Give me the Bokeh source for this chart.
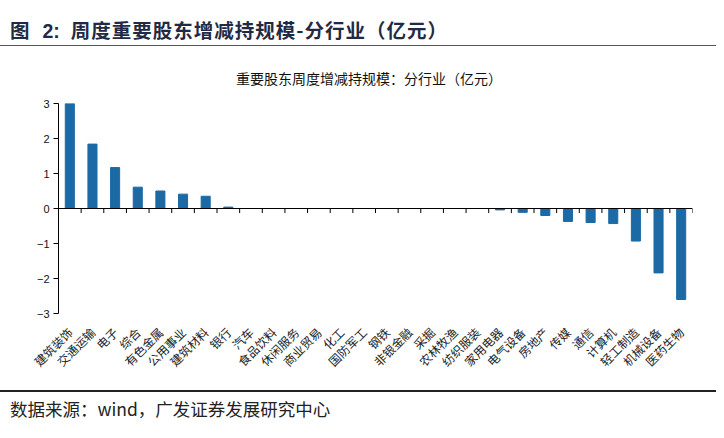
import math
from bokeh.plotting import figure
from bokeh.models import Div, Range1d, FactorRange, FixedTicker, Span, ColumnDataSource
from bokeh.transform import dodge
from bokeh.layouts import column
from bokeh.embed import file_html
from bokeh.resources import INLINE

categories = ["建筑装饰", "交通运输", "电子", "综合", "有色金属", "公用事业", "建筑材料", "银行",
              "汽车", "食品饮料", "休闲服务", "商业贸易", "化工", "国防军工", "钢铁", "非银金融",
              "采掘", "农林牧渔", "纺织服装", "家用电器", "电气设备", "房地产", "传媒", "通信",
              "计算机", "轻工制造", "机械设备", "医药生物"]
values = [3.0, 1.84, 1.17, 0.61, 0.50, 0.41, 0.35, 0.04,
          0.0, 0.0, 0.0, 0.0, 0.0, 0.0, 0.0, 0.0,
          0.0, 0.0, 0.0, -0.04, -0.11, -0.20, -0.37, -0.40,
          -0.43, -0.93, -1.84, -2.60]
y_ticks = [-3, -2, -1, 0, 1, 2, 3]

title_fig = "图"
title_num = "2:"
title_text = "周度重要股东增减持规模-分行业（亿元）"
subtitle_text = "重要股东周度增减持规模：分行业（亿元）"
source_text = "数据来源：wind，广发证券发展研究中心"

W = 716
OFF = 8
BAR = "#1b6aa5"
CJK = "'Noto Sans CJK SC'"

head = Div(text=f"""
<div style="position:relative;width:{W}px;height:93px;">
 <div style="position:absolute;left:{OFF+2}px;top:{OFF+9}px;font-family:{CJK};font-weight:bold;font-size:19.5px;line-height:26px;color:#1f2a44;white-space:nowrap;">{title_fig}<span style="font-family:'Liberation Sans';margin-left:13px;margin-right:11px;">{title_num}</span><span style="letter-spacing:1px;">{title_text}</span></div>
 <div style="position:absolute;left:0;top:{OFF+37}px;width:{W}px;border-top:1.5px solid #555;"></div>
 <div style="position:absolute;left:{OFF+44}px;width:634px;top:{OFF+61}px;text-align:center;font-family:{CJK};font-size:14px;line-height:18px;color:#111;white-space:nowrap;">{subtitle_text}</div>
</div>""", width=W, height=93, margin=0)

p = figure(width=W, height=297, x_range=FactorRange(*categories), y_range=Range1d(-3, 3),
           output_backend="svg", toolbar_location=None,
           min_border_left=50 + OFF, min_border_right=24, min_border_top=10, min_border_bottom=77)
p.outline_line_color = None
p.xgrid.visible = False
p.ygrid.visible = False

src = ColumnDataSource(dict(cats=categories, vals=values))
p.vbar(x="cats", top="vals", width=0.4, source=src, fill_color=BAR, line_color=BAR)

# zero line with tick marks between categories
p.add_layout(Span(location=0, dimension="width", line_color="black", line_width=1))
tick_len = 0.13
seg = ColumnDataSource(dict(cats=categories, y0=[0] * len(categories), y1=[-tick_len] * len(categories)))
p.segment(x0=dodge("cats", -0.5, range=p.x_range), x1=dodge("cats", -0.5, range=p.x_range),
          y0="y0", y1="y1", source=seg, line_color="black", line_width=1)
seg_end = ColumnDataSource(dict(cats=categories[-1:], y0=[0], y1=[-tick_len]))
p.segment(x0=dodge("cats", 0.5, range=p.x_range), x1=dodge("cats", 0.5, range=p.x_range),
          y0="y0", y1="y1", source=seg_end, line_color="black", line_width=1)

xa = p.xaxis[0]
xa.axis_line_color = None
xa.major_tick_line_color = None
xa.minor_tick_line_color = None
xa.major_label_orientation = math.pi / 4
xa.major_label_standoff = 10
xa.major_label_text_font = "Noto Sans CJK SC"
xa.major_label_text_font_size = "12px"
xa.major_label_text_color = "#222"

ya = p.yaxis[0]
ya.ticker = FixedTicker(ticks=y_ticks)
ya.axis_line_color = "black"
ya.major_tick_line_color = "black"
ya.major_tick_out = 5
ya.major_tick_in = 0
ya.minor_tick_line_color = None
ya.major_label_standoff = 4
ya.major_label_text_font = "Liberation Sans"
ya.major_label_text_font_size = "11px"
ya.major_label_text_color = "#111"

foot = Div(text=f"""
<div style="position:relative;width:{W}px;height:40px;">
 <div style="position:absolute;left:0;top:0;width:{W}px;border-top:2px solid #222;"></div>
 <div style="position:absolute;left:{OFF+2}px;top:8px;font-family:{CJK};font-size:17.5px;line-height:22px;color:#222;white-space:nowrap;">{source_text}</div>
</div>""", width=W, height=40, margin=0)

layout = column(head, p, foot, spacing=0)
open("out.html", "w").write(file_html(layout, INLINE))
